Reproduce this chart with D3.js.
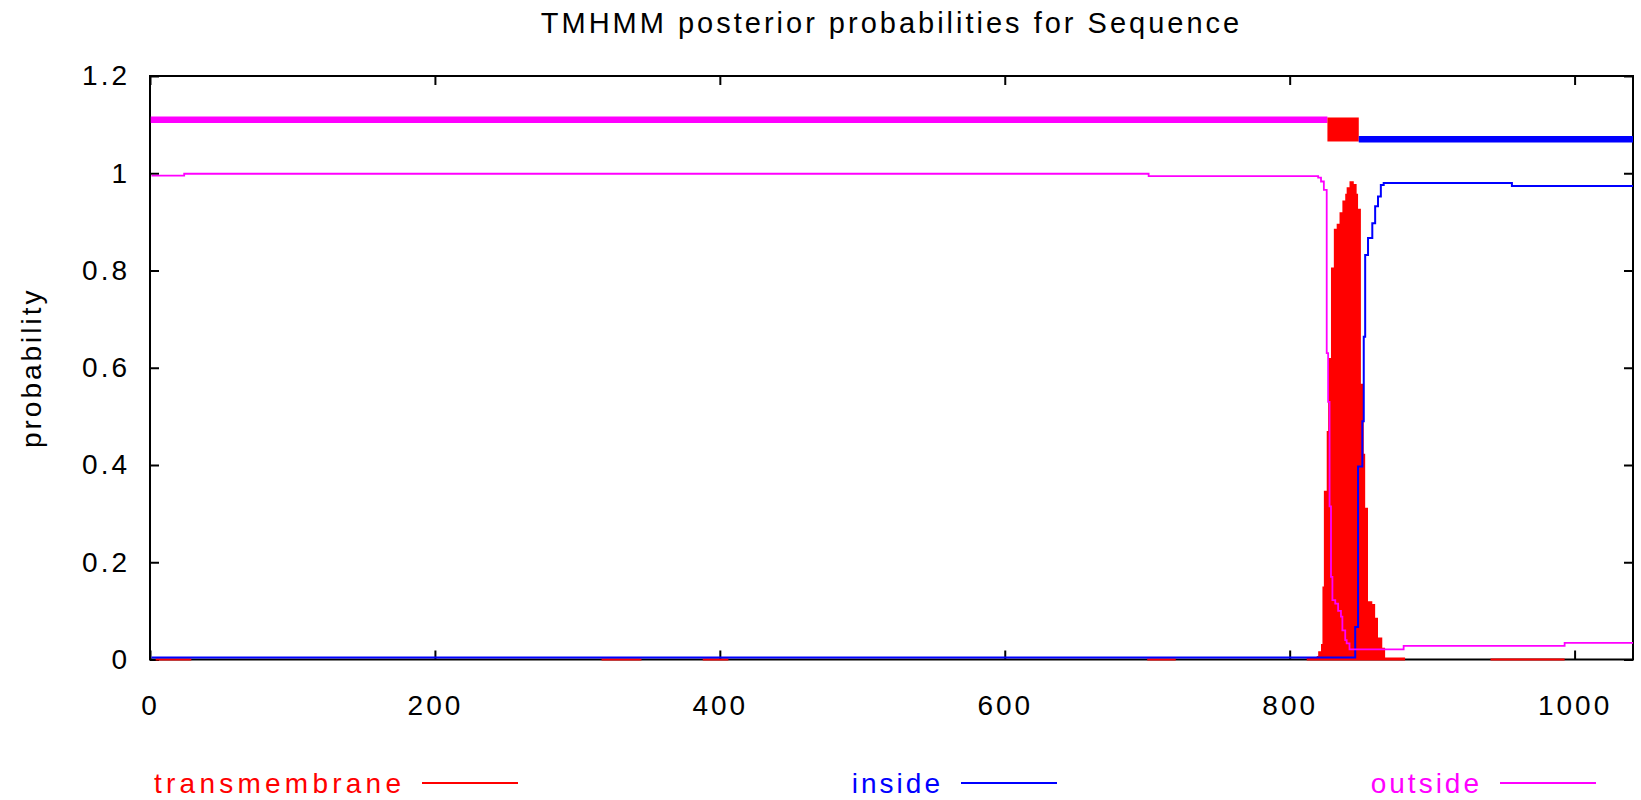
<!DOCTYPE html>
<html>
<head>
	<meta charset="utf-8">
	<script src="https://cdn.jsdelivr.net/npm/d3@7"></script>
	<style>
		body { margin: 0; background: #fff; }
		svg text { font-family: "Liberation Sans", Arial, sans-serif; font-size: 28px; letter-spacing: 3px; }
		svg text.title { font-size: 29px; }
	</style>
</head>
<body>
	<div id="chart"></div>
	<script>
		// TMHMM posterior probabilities, step data
		// (value holds from position until the next position)
		var seqLength = 1041;

		var tmPos = [1, 4, 29, 317, 345, 388, 406, 700, 720, 812,
			819, 820, 822, 823, 824, 826, 827, 829, 831, 833,
			835, 837, 839, 840, 842, 845, 847, 848, 850, 852,
			853, 855, 858, 860, 862, 865, 867, 881, 941, 993];
		var tmProb = [0, 0.002, 0, 0.002, 0, 0.002, 0, 0.002, 0, 0.004,
			0.007, 0.017, 0.032, 0.15, 0.347, 0.47, 0.62, 0.806, 0.886, 0.896,
			0.92, 0.944, 0.958, 0.971, 0.9835, 0.978, 0.958, 0.927, 0.567, 0.423,
			0.312, 0.12, 0.114, 0.086, 0.045, 0.024, 0.004, 0, 0.002, 0];

		var insidePos = [1, 846, 848, 851, 852, 853, 855, 858, 860, 862, 864, 866, 956];
		var insideProb = [0.004, 0.067, 0.397, 0.49, 0.664, 0.832, 0.867, 0.897, 0.932, 0.952, 0.976, 0.98, 0.974];

		var outsidePos = [1, 24, 701, 820, 822, 824, 826, 827, 828, 829,
			830, 832, 834, 836, 837, 839, 840, 842, 880, 993];
		var outsideProb = [0.995, 0.999, 0.994, 0.991, 0.983, 0.966, 0.63, 0.53, 0.315, 0.17,
			0.122, 0.115, 0.10, 0.088, 0.06, 0.04, 0.033, 0.021, 0.028, 0.034];

		// predicted topology
		var topoStart = [1, 827, 849];
		var topoEnd = [826, 848, 1041];
		var topoType = ["outside", "TMhelix", "inside"];
		var topoLevel = [1.11, 1.09, 1.07];

		var xTicks = [0, 200, 400, 600, 800, 1000];
		var yTicks = [0, 0.2, 0.4, 0.6, 0.8, 1, 1.2];

		var legendNames = ["transmembrane", "inside", "outside"];

		var colors = { transmembrane: "#ff0000", TMhelix: "#ff0000", inside: "#0000ff", outside: "#ff00ff" };

		var width = 1641, height = 800;
		var margin = { top: 76, right: 8, bottom: 140.5, left: 150 };

		var svg = d3.select("#chart").append("svg")
			.attr("width", width)
			.attr("height", height);

		var x = d3.scaleLinear().domain([0, seqLength]).range([margin.left, width - margin.right]);
		var y = d3.scaleLinear().domain([0, 1.2]).range([height - margin.bottom, margin.top]);

		function steps(pos, vals) {
			var pts = pos.map(function(p, i) { return [p, vals[i]]; });
			pts.push([seqLength, vals[vals.length - 1]]);
			return pts;
		}

		svg.append("clipPath").attr("id", "plotclip")
			.append("rect")
			.attr("x", x(0)).attr("y", 0)
			.attr("width", x(seqLength) - x(0))
			.attr("height", y(0) + 3);

		// frame
		svg.append("rect")
			.attr("x", x(0)).attr("y", y(1.2))
			.attr("width", x(seqLength) - x(0))
			.attr("height", y(0) - y(1.2))
			.attr("fill", "none")
			.attr("stroke", "#000")
			.attr("stroke-width", 2);

		// axes, ticks pointing inward on all four sides
		function styleAxis(g) {
			g.select(".domain").remove();
			g.selectAll(".tick line").attr("stroke", "#000").attr("stroke-width", 2);
			g.selectAll(".tick text").attr("fill", "#000");
			g.attr("font-family", null).attr("font-size", null);
		}

		svg.append("g")
			.attr("transform", "translate(0," + y(0) + ")")
			.call(d3.axisBottom(x).tickValues(xTicks).tickSizeInner(-9).tickSizeOuter(0).tickPadding(36).tickFormat(d3.format("d")))
			.call(styleAxis);
		svg.append("g")
			.attr("transform", "translate(0," + y(1.2) + ")")
			.call(d3.axisTop(x).tickValues(xTicks).tickSizeInner(-9).tickSizeOuter(0).tickFormat(""))
			.call(styleAxis);
		svg.append("g")
			.attr("transform", "translate(" + x(0) + ",0)")
			.call(d3.axisLeft(y).tickValues(yTicks).tickSizeInner(-9).tickSizeOuter(0).tickPadding(20).tickFormat(d3.format("~g")))
			.call(styleAxis);
		svg.append("g")
			.attr("transform", "translate(" + x(seqLength) + ",0)")
			.call(d3.axisRight(y).tickValues(yTicks).tickSizeInner(-9).tickSizeOuter(0).tickFormat(""))
			.call(styleAxis);

		var plot = svg.append("g").attr("clip-path", "url(#plotclip)");

		// transmembrane, filled
		var tmArea = d3.area()
			.curve(d3.curveStepAfter)
			.x(function(d) { return x(d[0]); })
			.y0(function(d) { return d[1] > 0 ? y(0) + 1 : y(0); })
			.y1(function(d) { return y(d[1]); });

		plot.append("path")
			.datum(steps(tmPos, tmProb))
			.attr("d", tmArea)
			.attr("fill", colors.transmembrane);

		var line = d3.line()
			.curve(d3.curveStepAfter)
			.x(function(d) { return x(d[0]); })
			.y(function(d) { return y(d[1]); });

		plot.append("path")
			.datum(steps(insidePos, insideProb))
			.attr("d", line)
			.attr("fill", "none")
			.attr("stroke", colors.inside)
			.attr("stroke-width", 2);

		plot.append("path")
			.datum(steps(outsidePos, outsideProb))
			.attr("d", line)
			.attr("fill", "none")
			.attr("stroke", colors.outside)
			.attr("stroke-width", 1.8);

		// topology bars above the curves
		topoType.forEach(function(t, i) {
			var x0 = x(topoStart[i] - 0.5), x1 = Math.min(x(topoEnd[i] + 0.5), x(seqLength));
			if (t === "TMhelix") {
				plot.append("rect")
					.attr("x", x0).attr("y", y(topoLevel[i]) - 12)
					.attr("width", x1 - x0).attr("height", 24)
					.attr("fill", colors[t]);
			} else {
				plot.append("line")
					.attr("x1", x0).attr("x2", x1)
					.attr("y1", y(topoLevel[i])).attr("y2", y(topoLevel[i]))
					.attr("stroke", colors[t])
					.attr("stroke-width", 6.5);
			}
		});

		// title and axis label
		svg.append("text")
			.attr("class", "title")
			.attr("x", (x(0) + x(seqLength)) / 2)
			.attr("y", 33)
			.attr("text-anchor", "middle")
			.text("TMHMM posterior probabilities for Sequence");

		svg.append("text")
			.attr("transform", "translate(31," + ((y(0) + y(1.2)) / 2) + ") rotate(-90)")
			.attr("text-anchor", "middle")
			.attr("dominant-baseline", "central")
			.text("probability");

		// legend (gnuplot key: text right-justified before its sample line)
		var legend = svg.append("g");
		legendNames.forEach(function(name, i) {
			var lineEnd = 518 + i * 539;
			var label = legend.append("text")
				.attr("x", lineEnd - 114)
				.attr("y", 783)
				.attr("text-anchor", "end")
				.attr("dominant-baseline", "central")
				.attr("fill", colors[name])
				.text(name);
			// the bitmap font in the original sets this long word a bit wider
			if (name === "transmembrane") {
				label.attr("textLength", 250).attr("lengthAdjust", "spacing");
			}
			legend.append("line")
				.attr("x1", lineEnd - 96).attr("x2", lineEnd)
				.attr("y1", 783).attr("y2", 783)
				.attr("stroke", colors[name])
				.attr("stroke-width", 2);
		});
	</script>
</body>
</html>
